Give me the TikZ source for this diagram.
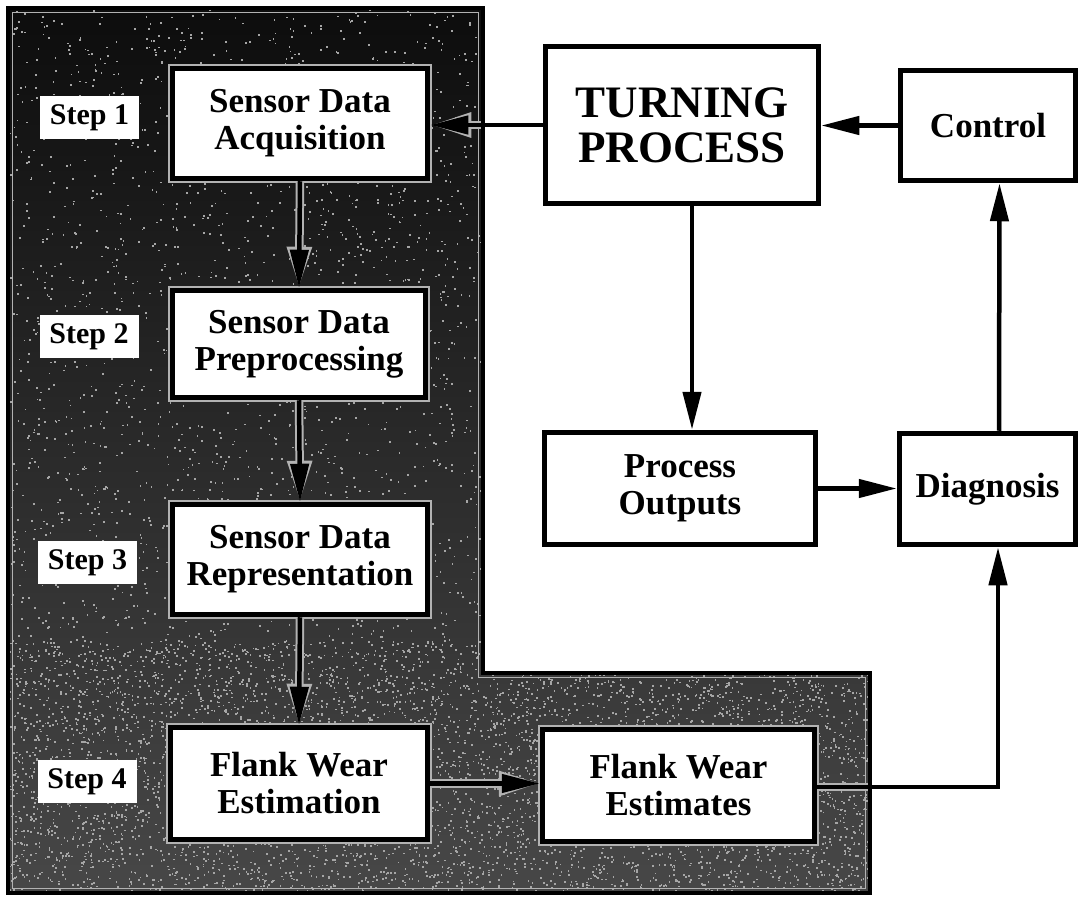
\documentclass[tikz,border=0pt]{standalone}
\usepackage{fontspec}
\setmainfont{Liberation Serif}
\usetikzlibrary{arrows.meta,backgrounds}
\newcommand\boxfont{\fontsize{35}{37}\selectfont\bfseries}
\newcommand\bigboxfont{\fontsize{45}{45}\selectfont\bfseries}
\newcommand\stepfont{\fontsize{30}{30}\selectfont\bfseries}
\begin{document}
\begin{tikzpicture}[x=1pt,y=-1pt,
  box/.style={rectangle, draw=black, fill=white, line width=5.5pt,
    inner sep=0pt, align=center, font=\boxfont},
  glow/.style={preaction={draw=gray!60, line width=9.5pt}},
  steplab/.style={rectangle, fill=white, inner sep=0pt,
    minimum width=99pt, minimum height=43pt, font=\stepfont},
  link/.style={draw=black, line width=4.5pt, -{Triangle[length=38pt,width=18pt]}},
  linkglow/.style={draw=gray!60, line width=8.5pt, -{Triangle[length=41pt,width=23pt]}},
  speck/.style={fill=gray!70},
]
\useasboundingbox (0,0) rectangle (1082,901);

% the monitoring steps, inside the shaded L-shaped frame
\node[box, glow, minimum width=255pt, minimum height=110pt] (acq) at (300,123.5) {Sensor Data\\Acquisition};
\node[box, glow, minimum width=253pt, minimum height=107pt] (pre) at (299,344) {Sensor Data\\Preprocessing};
\node[box, glow, minimum width=255pt, minimum height=110pt] (rep) at (300,559.5) {Sensor Data\\Representation};
\node[box, glow, minimum width=257pt, minimum height=112pt] (est) at (299,783.5) {Flank Wear\\Estimation};
\node[box, glow, minimum width=272pt, minimum height=112pt] (fwe) at (678.5,785.5) {Flank Wear\\Estimates};

\node[steplab] (s1) at (89.5,118) {Step 1};
\node[steplab] (s2) at (89,337) {Step 2};
\node[steplab] (s3) at (87.5,562.5) {Step 3};
\node[steplab] (s4) at (87,781.5) {Step 4};

% the process loop
\node[box, font=\bigboxfont, minimum width=273pt, minimum height=157pt] (turn) at (682,125) {TURNING\\PROCESS};
\node[box, minimum width=175pt, minimum height=110pt] (ctrl) at (988,125.5) {Control};
\node[box, minimum width=271pt, minimum height=112pt] (pout) at (680,488.5) {Process\\Outputs};
\node[box, minimum width=176pt, minimum height=111pt] (diag) at (987.5,489) {Diagnosis};

\begin{pgfonlayer}{background}
  \begin{scope}
    \clip (8,8) -- (483,8) -- (483,673) -- (870,673) -- (870,893) -- (8,893) -- cycle;
    \shade[top color=black!95, bottom color=black!72] (8,8) rectangle (870,893);
    \pgfmathsetseed{11}
    \foreach \i in {1,...,5000}{
      \pgfmathsetmacro{\px}{8+862*rnd}
      \pgfmathsetmacro{\py}{8+885*rnd}
      \fill[speck] (\px,\py) rectangle ++(1.7,1.7);
    }
    \foreach \i in {1,...,4500}{
      \pgfmathsetmacro{\px}{8+862*rnd}
      \pgfmathsetmacro{\py}{640+253*rnd}
      \fill[speck] (\px,\py) rectangle ++(1.7,1.7);
    }
    % light rim just inside the frame
    \draw[gray!60, line width=1.2pt] (12.5,12.5) -- (478.5,12.5) -- (478.5,677.5) -- (865.5,677.5)
      -- (865.5,888.5) -- (12.5,888.5) -- cycle;
    % light outlines of the connectors inside the frame
    \draw[linkglow] (turn.west) -- (turn.west -| acq.east);
    \draw[linkglow] (acq.south) -- (pre.north);
    \draw[linkglow] (pre.south) -- (rep.north);
    \draw[linkglow] (rep.south) -- (est.north);
    \draw[linkglow] (est.east) -- (est.east -| fwe.west);
    \draw[draw=gray!60, line width=8.5pt] ([yshift=-1.5pt]fwe.east) -- ++(80,0);
  \end{scope}
\end{pgfonlayer}

% connectors
\draw[link] (turn.west) -- (turn.west -| acq.east);
\draw[link] (acq.south) -- (pre.north);
\draw[link] (pre.south) -- (rep.north);
\draw[link] (rep.south) -- (est.north);
\draw[link] (est.east) -- (est.east -| fwe.west);
\draw[link] ([yshift=-1.5pt]fwe.east) -| ([xshift=10.5pt]diag.south);
\draw[link] ([xshift=10pt]turn.south) -- ([xshift=10pt]turn.south |- pout.north);
\draw[link] (pout.east) -- (pout.east -| diag.west);
\draw[link] ([xshift=11.5pt]diag.north) -- ([xshift=11.5pt]ctrl.south);
\draw[link] (ctrl.west) -- (ctrl.west -| turn.east);

% outline of the shaded frame
\draw[black, line width=3.5pt] (8,8) -- (483,8) -- (483,673) -- (870,673) -- (870,893) -- (8,893) -- cycle;
\end{tikzpicture}
\end{document}
